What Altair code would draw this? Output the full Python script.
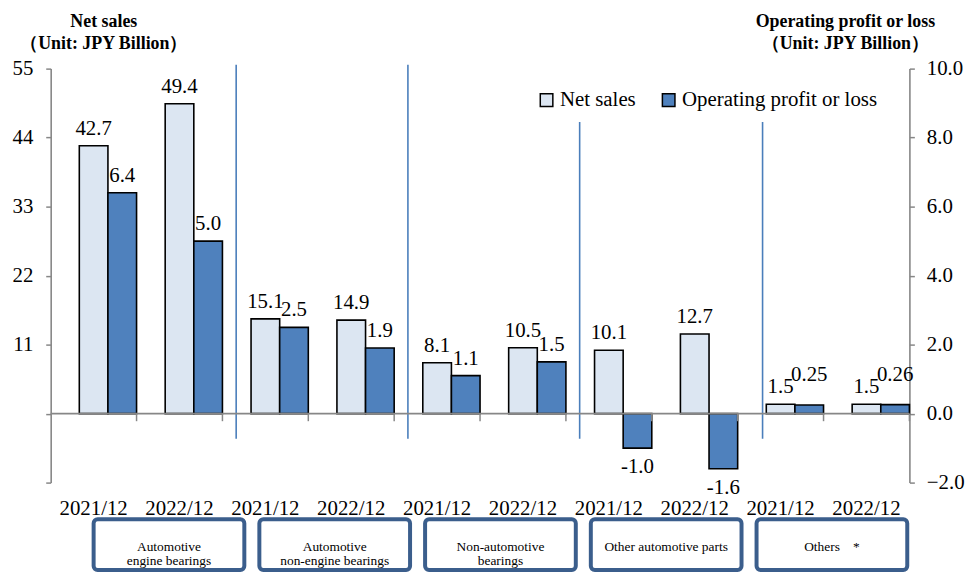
import altair as alt
import pandas as pd

# ---------------- data ----------------
GROUPS = ["Automotive\nengine bearings", "Automotive\nnon-engine bearings",
          "Non-automotive\nbearings", "Other automotive parts", "Others　*"]
PERIODS = ["2021/12", "2022/12"]
NET_SALES = [42.7, 49.4, 15.1, 14.9, 8.1, 10.5, 10.1, 12.7, 1.5, 1.5]
OP_PROFIT = [6.4, 5.0, 2.5, 1.9, 1.1, 1.5, -1.0, -1.6, 0.25, 0.26]
SERIES = ["Net sales", "Operating profit or loss"]
LEFT_TICKS = [-11, 0, 11, 22, 33, 44, 55]
RIGHT_TICKS = [-2, 0, 2, 4, 6, 8, 10]

# ---------------- style ----------------
FONT = "Liberation Serif"
LIGHT = "#dce6f2"
DARK = "#4f81bd"
GRAY = "#878787"
SEP = "#4a7ebb"
BOXC = "#3b5e8c"
W, H = 865, 417

keys = []
rows = []
for gi in range(len(GROUPS)):
    for pi, p in enumerate(PERIODS):
        i = gi * 2 + pi
        k = f"{i}|{p}"
        keys.append(k)
        rows.append({"key": k, "series": SERIES[0], "value": NET_SALES[i],
                     "label": f"{NET_SALES[i]:.1f}"})
        v = OP_PROFIT[i]
        rows.append({"key": k, "series": SERIES[1], "value": v,
                     "label": f"{v:.2f}" if abs(v) < 0.5 else f"{v:.1f}"})
df = pd.DataFrame(rows)

# separators between segment groups (decoration)
sep_df = pd.DataFrame({"key": [keys[2], keys[4], keys[6], keys[8]],
                       "value": [55.6, 55.6, 46.5, 46.5],
                       "bottom": [-4.0] * 4})

XS = alt.Scale(domain=keys, paddingInner=0, paddingOuter=0)
LS = alt.Scale(domain=[-11, 55], nice=False)
RS = alt.Scale(domain=[-2, 10], nice=False)
XO = alt.XOffset("series:N", scale=alt.Scale(domain=["gap"] + SERIES,
                                             paddingInner=0, paddingOuter=0))

X_AXIS = alt.Axis(
    title=None, labelExpr="split(datum.label, '|')[1]", labelFont=FONT,
    labelFontSize=21, labelColor="black", labelPadding=15, labelAngle=0,
    domain=False, ticks=False, tickSize=0, labelOverlap=False, grid=False)


def xenc(band=None):
    if band is None:
        return alt.X("key:N", scale=XS, axis=X_AXIS)
    return alt.X("key:N", scale=XS, axis=X_AXIS, bandPosition=band)


legend = alt.Legend(title=None, orient="none", legendX=489, legendY=21,
                    direction="horizontal", symbolType="square", symbolSize=160,
                    symbolStrokeColor="black", symbolStrokeWidth=1.5,
                    labelFont=FONT, labelFontSize=21, labelColor="black",
                    labelOffset=3, columnPadding=22, padding=0, labelLimit=500)
COLOR = alt.Color("series:N", scale=alt.Scale(domain=SERIES, range=[LIGHT, DARK]),
                  legend=legend)

LEFT_AXIS = alt.Axis(
    orient="left", values=LEFT_TICKS,
    labelExpr="datum.value > 0 ? datum.label : ''",
    title=["Net sales", "（Unit: JPY Billion）"], titleAngle=0, titleAlign="center",
    titleX=53, titleY=-42, titleBaseline="alphabetic", titleFont=FONT,
    titleFontSize=18, titleFontWeight="bold", titleLineHeight=22, titleColor="black",
    labelFont=FONT, labelFontSize=21, labelColor="black", labelPadding=13,
    domainColor=GRAY, domainWidth=1.6, tickColor=GRAY, tickWidth=1.5, tickSize=5,
    grid=False)
RIGHT_AXIS = alt.Axis(
    orient="right", values=RIGHT_TICKS, format=".1f",
    title=["Operating profit or loss", "（Unit: JPY Billion）"], titleAngle=0,
    titleAlign="center", titleX=-65, titleY=-42, titleBaseline="alphabetic",
    titleFont=FONT, titleFontSize=18, titleFontWeight="bold", titleLineHeight=22,
    titleColor="black",
    labelFont=FONT, labelFontSize=21, labelColor="black", labelPadding=12,
    domainColor=GRAY, domainWidth=1.6, tickColor=GRAY, tickWidth=1.5, tickSize=5,
    grid=False)

YL = alt.Y("value:Q", scale=LS, axis=LEFT_AXIS)
YR = alt.Y("value:Q", scale=RS, axis=RIGHT_AXIS)

base = alt.Chart(df)
ns = base.transform_filter(alt.datum.series == SERIES[0])
op = base.transform_filter(alt.datum.series == SERIES[1])

ns_bars = ns.mark_bar(stroke="black", strokeWidth=1.6).encode(
    x=xenc(), xOffset=XO, y=YL, color=COLOR)
ns_text = ns.mark_text(font=FONT, fontSize=21, baseline="alphabetic", dy=-11,
                       color="black").encode(x=xenc(), xOffset=XO, y=YL, text="label:N")
sep_base = alt.Chart(sep_df).mark_rule(color=SEP, strokeWidth=1.6)
seps_a = sep_base.transform_filter(alt.datum.key != keys[8]).encode(
    x=xenc(0.16), y=YL, y2="bottom:Q")
seps_b = sep_base.transform_filter(alt.datum.key == keys[8]).encode(
    x=xenc(0.29), y=YL, y2="bottom:Q")
left_layer = alt.layer(ns_bars, ns_text, seps_a, seps_b)

op_bars = op.mark_bar(stroke="black", strokeWidth=1.6).encode(
    x=xenc(), xOffset=XO, y=YR, color=COLOR)
txt = dict(font=FONT, fontSize=21, baseline="alphabetic", color="black")
op_enc = dict(x=xenc(), xOffset=XO, y=YR, text="label:N")
op_text = op.transform_filter(alt.datum.value >= 0.5).mark_text(dy=-11, **txt).encode(**op_enc)
op_text_small = op.transform_filter(
    (alt.datum.value >= 0) & (alt.datum.value < 0.5)).mark_text(dy=-24, **txt).encode(**op_enc)
op_text_neg = op.transform_filter(alt.datum.value < 0).mark_text(dy=25, **txt).encode(**op_enc)
zero_line = alt.Chart(pd.DataFrame({"value": [0]})).mark_rule(
    color=GRAY, strokeWidth=1.8).encode(y=YR)
zero_ticks = alt.Chart(pd.DataFrame({"key": keys, "value": [0] * len(keys),
                                     "tick_end": [-0.22] * len(keys)})).mark_rule(
    color=GRAY, strokeWidth=1.5).encode(x=xenc(1), y=YR, y2="tick_end:Q")
right_layer = alt.layer(op_bars, op_text, op_text_small, op_text_neg, zero_line, zero_ticks)

main = alt.layer(left_layer, right_layer).resolve_scale(y="independent").properties(
    width=W, height=H)

# ---------------- segment boxes ----------------
box_start = [0.5 + 1.93 * g for g in range(len(GROUPS))]
box_df = pd.DataFrame({"label": GROUPS,
                       "x0": box_start,
                       "x1": [s + 1.755 for s in box_start],
                       "xc": [s + 1.755 / 2 for s in box_start],
                       "y0": [0] * len(GROUPS), "y1": [1] * len(GROUPS),
                       "ym": [0.5] * len(GROUPS)})
BX = alt.Scale(domain=[0, 10], nice=False, zero=False)
BY = alt.Scale(domain=[0, 1], nice=False)
box_rect = alt.Chart(box_df).mark_rect(fill="white", stroke=BOXC, strokeWidth=4,
                                       cornerRadius=4).encode(
    x=alt.X("x0:Q", scale=BX, axis=None), x2="x1:Q",
    y=alt.Y("y0:Q", scale=BY, axis=None), y2="y1:Q")
box_text = alt.Chart(box_df).mark_text(font=FONT, fontSize=13.5, lineBreak="\n",
                                       lineHeight=15, baseline="middle", dy=2,
                                       color="black").encode(
    x=alt.X("xc:Q", scale=BX, axis=None), y=alt.Y("ym:Q", scale=BY, axis=None),
    text="label:N")
boxes = alt.layer(box_rect, box_text).properties(width=W, height=51)

chart = alt.vconcat(main, boxes, spacing=37, bounds="flush").resolve_scale(
    color="independent").configure_view(stroke=None).properties(
    padding={"left": 4, "top": 3, "right": 0, "bottom": 0}, background="white")

chart.save("out.html", embed_options={"renderer": "svg", "actions": False})
